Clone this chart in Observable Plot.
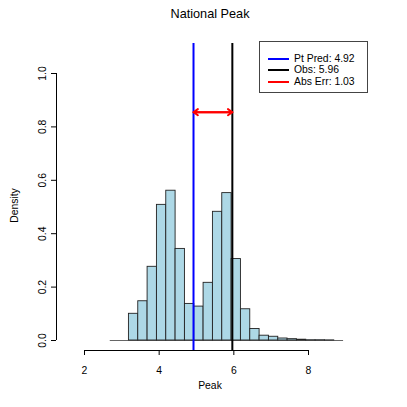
<!DOCTYPE html>
<html>
<head>
<meta charset="utf-8">
<script src="https://cdn.jsdelivr.net/npm/d3@7"></script>
<script src="https://cdn.jsdelivr.net/npm/@observablehq/plot@0.6"></script>
<style>
  body { margin: 0; background: #fff; }
  #wrap { position: relative; width: 407px; height: 407px; font-family: "Liberation Sans", Arial, Helvetica, sans-serif; }
  #legend { position: absolute; left: 259px; top: 41px; width: 109px; height: 52px; border: 1px solid #444; background: #fff; box-sizing: border-box; }
  .row { position: absolute; left: 0; height: 12px; font-size: 10.4px; line-height: 12px; color: #000; white-space: nowrap; }
  .swatch { position: absolute; left: 8px; top: 5px; width: 21px; height: 2px; }
  .lbl { position: absolute; left: 34px; top: 0; }
</style>
</head>
<body>
<div id="wrap"></div>
<script>
// Histogram bin edges and densities
const binEdges = [2.69, 2.94, 3.19, 3.44, 3.69, 3.94, 4.19, 4.44, 4.69, 4.94, 5.19, 5.44, 5.69, 5.94, 6.19, 6.44, 6.69, 6.94, 7.19, 7.44, 7.69, 7.94, 8.19, 8.44, 8.69, 8.94];
const densities = [0, 0, 0.100, 0.147, 0.276, 0.508, 0.561, 0.343, 0.137, 0.127, 0.216, 0.482, 0.552, 0.305, 0.117, 0.043, 0.018, 0.014, 0.0075, 0.005, 0.003, 0.001, 0.001, 0.0005, 0];
const ptPred = 4.92;
const obs = 5.96;
const absErr = 1.03;
const errArrowY = 0.855;
const xTicks = [2, 4, 6, 8];
const yTicks = [0, 0.2, 0.4, 0.6, 0.8, 1.0];
const titleText = "National Peak";
const xLabel = "Peak";
const yLabel = "Density";
const legendItems = [
  {label: "Pt Pred: " + ptPred.toFixed(2), color: "#0000ff"},
  {label: "Obs: " + obs.toFixed(2), color: "#000000"},
  {label: "Abs Err: " + absErr.toFixed(2), color: "#ff0000"}
];

const bins = densities.map((d, i) => ({x1: binEdges[i], x2: binEdges[i + 1], y: d}));

const chart = Plot.plot({
  width: 407,
  height: 407,
  marginLeft: 56,
  marginRight: 44,
  marginTop: 43,
  marginBottom: 57,
  style: {fontFamily: "'Liberation Sans', Arial, Helvetica, sans-serif", fontSize: "10.4px", background: "#fff", color: "#000"},
  x: {domain: [2, 8], range: [84, 308]},
  y: {domain: [0, 1], range: [340, 73]},
  marks: [
    Plot.ruleY([0], {x1: binEdges[0], x2: binEdges[binEdges.length - 1], stroke: "#666", strokeWidth: 1}),
    Plot.rectY(bins.filter(b => b.y > 0), {x1: "x1", x2: "x2", y: "y", fill: "#add8e6", stroke: "#222", strokeWidth: 0.9, inset: 0}),
    Plot.ruleX([ptPred], {stroke: "#0000ff", strokeWidth: 2}),
    Plot.ruleX([obs], {stroke: "#000", strokeWidth: 2}),
    Plot.arrow([{a: ptPred, b: obs}, {a: obs, b: ptPred}], {x1: "a", x2: "b", y1: () => errArrowY, y2: () => errArrowY, stroke: "#ff0000", strokeWidth: 2, headLength: 4, headAngle: 70, bend: 0, insetStart: 0, insetEnd: 0}),
    // x axis
    Plot.ruleY([0], {x1: xTicks[0], x2: xTicks[xTicks.length - 1], dy: 10, stroke: "#000"}),
    Plot.axisX({anchor: "bottom", ticks: xTicks, tickSize: 5, tickPadding: 11, label: null, tickFormat: d => String(d)}),
    // y axis
    Plot.ruleX([xTicks[0]], {y1: yTicks[0], y2: yTicks[yTicks.length - 1], dx: -28, stroke: "#000"}),
    Plot.axisY({anchor: "left", ticks: yTicks, tickSize: 5, label: null, tickFormat: () => ""}),
    Plot.text(yTicks, {y: d => d, frameAnchor: "left", dx: -14, rotate: -90, text: d => d.toFixed(1), textAnchor: "middle", lineAnchor: "middle"}),
    // titles
    Plot.text([titleText], {frameAnchor: "top", dy: -30, fontSize: 12.7, lineAnchor: "middle"}),
    Plot.text([xLabel], {frameAnchor: "bottom", dy: 35, lineAnchor: "middle"}),
    Plot.text([yLabel], {frameAnchor: "left", dx: -42, dy: 8.5, rotate: -90, lineAnchor: "middle", textAnchor: "middle"})
  ]
});

const wrap = document.getElementById("wrap");
wrap.appendChild(chart);

const legend = document.createElement("div");
legend.id = "legend";
legendItems.forEach((item, i) => {
  const row = document.createElement("div");
  row.className = "row";
  row.style.top = (10.5 + i * 11.7) + "px";
  row.style.width = "100%";
  const sw = document.createElement("div");
  sw.className = "swatch";
  sw.style.background = item.color;
  const lb = document.createElement("span");
  lb.className = "lbl";
  lb.textContent = item.label;
  row.appendChild(sw);
  row.appendChild(lb);
  legend.appendChild(row);
});
wrap.appendChild(legend);
</script>
</body>
</html>
